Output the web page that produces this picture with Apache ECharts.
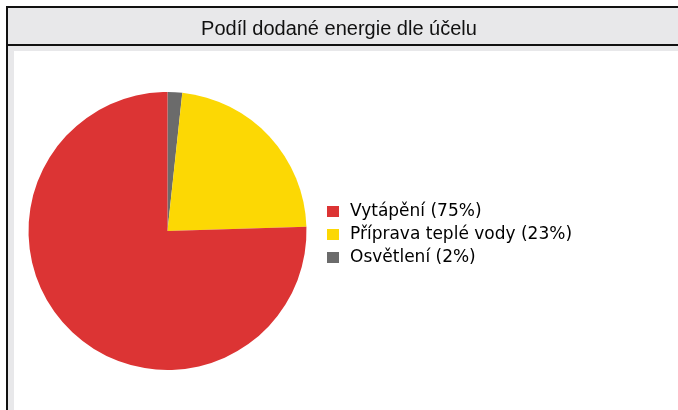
<!DOCTYPE html>
<html>
<head>
<meta charset="utf-8">
<script src="https://cdn.jsdelivr.net/npm/echarts@6/dist/echarts.min.js"></script>
<style>
html, body { margin: 0; padding: 0; background: #fff; }
#main { width: 678px; height: 410px; }
</style>
</head>
<body>
<div id="main"></div>
<script>
var chartTitle = 'Podíl dodané energie dle účelu';
// pořadí ve výseči (po směru hodinových ručiček od 12 hodin)
var names = ['Osvětlení', 'Příprava teplé vody', 'Vytápění'];
var values = [1.7, 22.8, 75.5];
var labels = ['2%', '23%', '75%'];
var colors = ['#6b6b6b', '#fcd804', '#dc3434'];
// pořadí v legendě
var legendOrder = ['Vytápění', 'Příprava teplé vody', 'Osvětlení'];

var myChart = echarts.init(document.getElementById('main'));

var data = [];
for (var i = 0; i < names.length; i++) {
    data.push({name: names[i], value: values[i], itemStyle: {color: colors[i]}});
}

var option = {
    animation: false,
    title: {
        text: chartTitle,
        left: 'center',
        top: 14,
        textStyle: {
            fontFamily: 'Liberation Sans',
            fontWeight: 'normal',
            fontSize: 20,
            color: '#111'
        }
    },
    graphic: [
        // rámeček a šedý pruh s nadpisem
        {type: 'rect', z: -10, shape: {x: 7, y: 7, width: 680, height: 38},
         style: {fill: '#e8e8ea', stroke: '#111', lineWidth: 2}},
        {type: 'rect', z: -10, shape: {x: 8, y: 46, width: 680, height: 380},
         style: {fill: '#e8e8ea'}},
        {type: 'rect', z: -9, shape: {x: 14, y: 51, width: 680, height: 380},
         style: {fill: '#fff'}},
        {type: 'line', z: -8, shape: {x1: 7, y1: 45, x2: 7, y2: 420},
         style: {stroke: '#111', lineWidth: 2}}
    ],
    legend: {
        orient: 'vertical',
        left: 327,
        top: 203,
        padding: 0,
        itemWidth: 12,
        itemHeight: 11,
        itemGap: 6,
        icon: 'rect',
        data: legendOrder,
        formatter: function (name) {
            return name + ' (' + labels[names.indexOf(name)] + ')';
        },
        textStyle: {
            fontFamily: '"DejaVu Sans", Verdana, sans-serif',
            fontSize: 17,
            color: '#000',
            padding: [0, 0, 0, 6]
        }
    },
    series: [
        {
            type: 'pie',
            center: [167.5, 231],
            radius: 139,
            startAngle: 90,
            clockwise: true,
            label: {show: false},
            labelLine: {show: false},
            emphasis: {disabled: true},
            data: data
        }
    ]
};

myChart.setOption(option);
</script>
</body>
</html>
